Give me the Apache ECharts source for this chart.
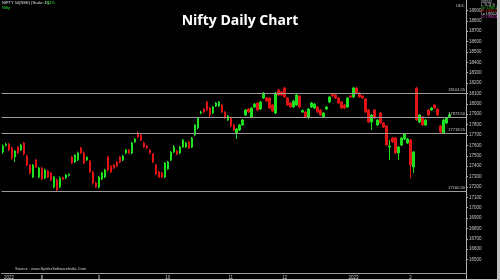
<!DOCTYPE html>
<html><head><meta charset="utf-8">
<script src="https://cdn.jsdelivr.net/npm/echarts@6/dist/echarts.min.js"></script>
<style>html,body{margin:0;padding:0;background:#000}#c{width:500px;height:280px}</style>
</head><body><div id="c"></div><script>
const opens=[17536,17600,17613,17575,17488,17584,17556,17623,17498,17411,17295,17459,17295,17382,17286,17353,17334,17199,17267,17199,17290,17286,17310,17488,17440,17459,17575,17527,17460,17450,17344,17238,17199,17276,17295,17488,17401,17411,17440,17488,17459,17527,17556,17527,17633,17719,17700,17623,17594,17556,17517,17411,17344,17334,17295,17373,17459,17536,17546,17527,17584,17584,17633,17584,17700,17767,17912,17950,18018,17960,17912,17979,17979,17989,17921,17844,17864,17796,17719,17748,17796,17893,17950,17873,17970,18008,17950,18056,18056,18056,17989,17912,18133,18114,18153,18056,18008,17970,17989,18076,17921,17921,17873,17970,17960,17970,17941,17873,17950,18018,18095,18085,18056,18018,17989,17970,18076,18066,18153,18104,18076,18047,17941,17825,17941,17796,17912,17815,17787,17584,17671,17671,17527,17604,17661,17623,17652,17392,18153,17825,17873,17796,17941,17941,17989,17950,17787,17719,17815,17873];
const closes=[17594,17610,17556,17478,17546,17527,17604,17517,17411,17334,17411,17392,17382,17276,17363,17295,17267,17295,17170,17286,17275,17315,17320,17430,17507,17527,17527,17430,17485,17344,17238,17199,17295,17334,17363,17363,17344,17382,17401,17440,17498,17556,17527,17623,17661,17681,17652,17584,17575,17527,17440,17324,17295,17295,17430,17440,17536,17584,17517,17584,17652,17623,17575,17671,17796,17864,17921,17921,17941,17893,17970,18008,18018,17921,17864,17883,17787,17748,17758,17796,17844,17941,17921,17960,17998,17941,18018,18104,18027,17960,17931,18104,18085,18085,18066,17989,17970,18027,18085,17970,17935,17873,17950,18008,17998,17921,17893,17912,17970,18066,18076,18056,18008,17960,17960,18056,18066,18153,18104,18066,18056,17921,17825,17893,17864,17844,17815,17777,17604,17594,17633,17527,17584,17671,17710,17661,17411,17536,17844,17893,17796,17844,17893,17960,17960,17893,17729,17844,17864,17894];
const lows=[17520,17590,17545,17460,17440,17515,17545,17505,17400,17320,17285,17380,17280,17265,17275,17285,17255,17185,17160,17190,17265,17275,17300,17420,17430,17450,17515,17420,17450,17335,17225,17190,17185,17265,17285,17350,17335,17370,17390,17430,17450,17515,17520,17515,17625,17670,17640,17575,17565,17515,17430,17315,17285,17285,17285,17365,17450,17525,17505,17515,17575,17575,17565,17575,17690,17755,17900,17910,17930,17865,17900,17970,17970,17910,17855,17835,17775,17738,17661,17738,17787,17883,17912,17864,17960,17931,17941,18047,18018,17950,17921,17902,18076,18076,18056,17979,17960,17960,17979,17960,17912,17864,17854,17960,17950,17912,17883,17864,17941,18008,18066,18047,17998,17950,17950,17960,18056,18056,18095,18056,18047,17912,17815,17748,17854,17787,17806,17767,17594,17459,17623,17517,17459,17594,17652,17613,17286,17334,17835,17815,17787,17787,17883,17931,17950,17883,17719,17710,17806,17864];
const highs=[17610,17625,17625,17590,17555,17595,17615,17635,17510,17420,17420,17470,17395,17395,17375,17365,17345,17305,17280,17300,17300,17325,17330,17500,17515,17540,17585,17540,17495,17460,17355,17250,17305,17345,17375,17500,17410,17420,17450,17500,17510,17565,17565,17635,17670,17735,17715,17635,17605,17565,17525,17420,17355,17345,17440,17450,17545,17604,17555,17595,17660,17635,17645,17680,17805,17875,17935,17960,18030,17970,17980,18018,18027,17998,17930,17893,17873,17806,17767,17806,17854,17950,17960,17970,18008,18018,18027,18114,18066,18066,17998,18114,18143,18124,18163,18066,18018,18037,18095,18085,17945,17931,17960,18018,18008,17979,17950,17921,17979,18076,18104,18095,18066,18027,17998,18066,18085,18163,18163,18114,18085,18056,17950,17902,17950,17854,17921,17825,17796,17652,17681,17681,17594,17681,17719,17671,17661,17546,18163,17902,17883,17854,17950,17970,17998,17960,17796,17854,17873,17912];
const levelLines=[18104.55,17873.50,17718.55,17160.30];
const lastPrice=17894;
const totalSlots=155;
const tickIdx=[2,13,32,55,76,94,117,136];
const tickText=['2022','8','9','10','11','12','2023','2'];
const yMin=16400, yMax=19000, yStep=100;

const cats=[];
for(let i=0;i<totalSlots;i++){const k=tickIdx.indexOf(i);cats.push(k>=0?tickText[k]:'');}
const ohlc=opens.map((o,i)=>[o,closes[i],lows[i],highs[i]]);

const chart=echarts.init(document.getElementById('c'),null,{renderer:'canvas'});
const tiny='Liberation Sans';
chart.setOption({
  backgroundColor:'#000',
  animation:false,
  grid:{left:1,right:34,top:0,bottom:10},
  xAxis:{type:'category',data:cats,boundaryGap:true,offset:3,
    axisLine:{lineStyle:{color:'#a0a0a0',width:1}},axisTick:{show:false},
    axisLabel:{interval:0,color:'#c8c8c8',fontSize:4.5,margin:2,fontFamily:tiny},splitLine:{show:false}},
  yAxis:{type:'value',position:'right',min:yMin,max:yMax,interval:yStep,scale:true,
    axisLine:{show:true,lineStyle:{color:'#b0b0b0'}},axisTick:{show:true,length:2,lineStyle:{color:'#b0b0b0'}},
    axisLabel:{color:'#c8c8c8',fontSize:4.5,margin:3,fontFamily:tiny,showMinLabel:false,showMaxLabel:false,
      formatter:v=>String(v)},
    splitLine:{show:false}},
  series:[{type:'candlestick',data:ohlc,barWidth:2,
    itemStyle:{color:'#1fe01f',color0:'#e01414',borderColor:'#1fe01f',borderColor0:'#e01414',borderWidth:1},
    markLine:{silent:true,symbol:'none',
      lineStyle:{color:'#9c9c9c',width:1,type:'solid'},
      label:{position:'insideEndTop',fontSize:4,color:'#d0d0d0',distance:1,fontFamily:tiny,
        formatter:p=>p.value.toFixed(2)},
      data:levelLines.map(v=>({yAxis:v})).concat([{yAxis:lastPrice,lineStyle:{opacity:0},
        label:{position:'end',formatter:String(lastPrice),backgroundColor:'#d4d4d4',color:'#000',fontSize:4.5,padding:[1,2],distance:1}}])
    }}],
  graphic:[
    {type:'text',x:240,y:14,style:{text:'Nifty Daily Chart',fill:'#fff',font:'bold 14px "Open Sans"',textAlign:'center'}},
    {type:'text',x:2,y:1,style:{text:'NIFTY 50(NSE) (Scale: D),',fill:'#e0e0e0',font:'4px "Liberation Sans"'}},
    {type:'text',x:44,y:1,style:{text:'1.11%',fill:'#2ee02e',font:'4px "Liberation Sans"'}},
    {type:'text',x:2,y:6,style:{text:'Nifty',fill:'#2ee02e',font:'4px "Liberation Sans"'}},
    {type:'text',x:456,y:4,style:{text:'UDC',fill:'#d0d0d0',font:'4px "Liberation Sans"'}},
    {type:'text',x:481,y:1,style:{text:'2023.02',fill:'#e0e0e0',font:'3px "Liberation Sans"'}},
    {type:'text',x:481,y:4,style:{text:'L: 11.11 %',fill:'#e0e0e0',font:'3px "Liberation Sans"'}},
    {type:'text',x:481,y:7,style:{text:'Op: 17887.20',fill:'#2ee02e',font:'3px "Liberation Sans"'}},
    {type:'text',x:481,y:10,style:{text:'Hi: 17915.55',fill:'#ff3030',font:'3px "Liberation Sans"'}},
    {type:'text',x:481,y:13,style:{text:'Lo: 17850.20',fill:'#e0e0e0',font:'3px "Liberation Sans"'}},
    {type:'text',x:481,y:16,style:{text:'Cl: 17894.00',fill:'#e040e0',font:'3px "Liberation Sans"'}},
    {type:'text',x:15,y:267,style:{text:'Source : www.SpiderSoftwareIndia.Com',fill:'#cfcfcf',font:'4px "Liberation Sans"'}},
    {type:'line',shape:{x1:466.5,y1:270,x2:466.5,y2:280},style:{stroke:'#b0b0b0',lineWidth:1}},
    {type:'rect',shape:{x:497,y:0,width:3,height:280},style:{fill:'#c4c4c4'}},
    {type:'rect',shape:{x:0,y:279,width:500,height:1},style:{fill:'#c4c4c4'}}
  ]
});
</script></body></html>
